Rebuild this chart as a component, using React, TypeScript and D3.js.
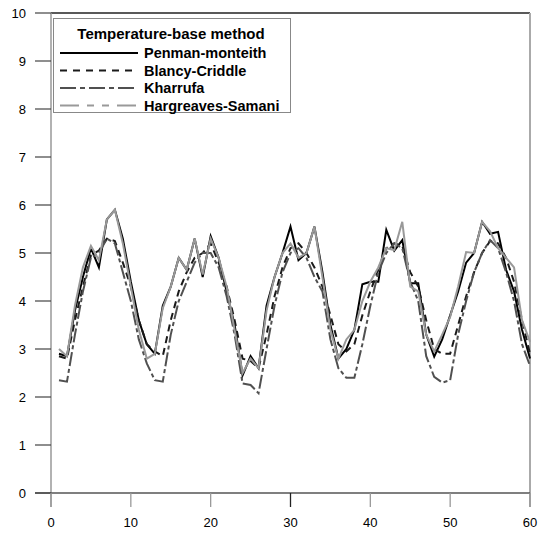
import React from "react";
import * as d3 from "d3";

const days: number[] = d3.range(1, 61);
const penman: number[] = [2.9,2.85,3.8,4.5,5.1,4.7,5.7,5.9,5.3,4.4,3.6,3.1,2.9,3.9,4.3,4.9,4.65,5.3,4.5,5.35,4.9,4.2,3.5,2.45,2.85,2.6,3.9,4.5,5.0,5.55,4.85,5.0,5.55,4.6,3.5,2.8,3.0,3.4,4.35,4.4,4.4,5.48,5.05,5.27,4.37,4.37,3.3,2.84,3.2,3.7,4.2,4.8,5.0,5.65,5.4,5.44,4.65,4.2,3.4,2.8];
const blancy: number[] = [2.85,2.8,3.6,4.3,4.95,5.05,5.3,5.25,4.8,4.3,3.6,3.1,2.95,2.85,3.6,4.2,4.6,4.9,5.0,5.2,4.8,4.3,3.6,2.8,2.75,2.6,3.3,4.1,4.7,5.1,5.2,5.0,4.7,4.3,3.7,3.1,2.95,3.1,3.7,4.2,4.65,5.1,5.2,5.15,4.6,4.3,3.6,3.0,2.9,2.9,3.5,4.1,4.6,5.0,5.25,5.2,4.9,4.4,3.6,2.9];
const kharrufa: number[] = [2.35,2.32,3.3,4.2,4.9,5.0,5.3,5.2,4.6,4.0,3.2,2.7,2.35,2.32,3.3,4.0,4.4,4.8,5.0,5.0,4.7,4.1,3.3,2.28,2.25,2.08,3.0,3.9,4.6,5.0,5.1,4.9,4.5,4.2,3.2,2.6,2.4,2.4,3.1,3.9,4.6,5.0,5.2,5.1,4.4,4.0,2.85,2.42,2.3,2.35,3.3,4.0,4.6,5.0,5.27,5.1,4.6,4.0,3.1,2.65];
const hargreaves: number[] = [3.0,2.85,3.9,4.7,5.15,4.85,5.7,5.9,5.2,4.3,3.4,2.8,2.9,3.85,4.3,4.9,4.65,5.3,4.55,5.3,4.9,4.3,3.4,2.5,2.8,2.6,3.8,4.5,5.0,5.2,4.9,5.0,5.55,4.5,3.4,2.8,3.2,3.4,4.0,4.4,4.7,5.1,5.06,5.65,4.3,4.2,3.3,2.95,3.3,3.67,4.3,5.02,5.0,5.65,5.45,5.1,4.9,4.7,3.6,3.15];

const seriesNames: string[] = ["Penman-monteith", "Blancy-Criddle", "Kharrufa", "Hargreaves-Samani"];
const xTicks: number[] = [0, 10, 20, 30, 40, 50, 60];
const yTicks: number[] = [0, 1, 2, 3, 4, 5, 6, 7, 8, 9, 10];
const legendTitle = "Temperature-base method";

const W = 540, H = 534;
const x = d3.scaleLinear().domain([0, 60]).range([51, 530]);
const y = d3.scaleLinear().domain([0, 10]).range([493, 13]);

const styles = [
  { color: "#000000", width: 2, dash: "none", legendDash: "none" },
  { color: "#1a1a1a", width: 2, dash: "7,5", legendDash: "7,6" },
  { color: "#505050", width: 2, dash: "14,3,4,3", legendDash: "16,4,5,4" },
  { color: "#999999", width: 2, dash: "none", legendDash: "19,8,7,8,7,8" },
];

export default function App() {
  const data = [penman, blancy, kharrufa, hargreaves];
  const line = d3
    .line<number>()
    .x((_, i) => x(days[i]))
    .y((d) => y(d));
  const font = "Arial, 'Liberation Sans', sans-serif";
  return (
    <svg
      width={W}
      height={H}
      style={{ position: "absolute", left: 0, top: 0, background: "#fff" }}
      fontFamily={font}
    >
      <rect x={0} y={0} width={W} height={H} fill="#fff" />
      {/* frame */}
      <line x1={x(0)} x2={x(60)} y1={y(10)} y2={y(10)} stroke="#222" strokeWidth={1.5} />
      <line x1={x(60)} x2={x(60)} y1={y(10)} y2={y(0) + 14} stroke="#aaa" strokeWidth={2} />
      <line x1={x(0)} x2={x(0)} y1={y(10)} y2={y(0) + 14} stroke="#999" strokeWidth={1.5} />
      <line x1={x(0) - 16} x2={x(60)} y1={y(0)} y2={y(0)} stroke="#555" strokeWidth={1.5} />
      {/* y ticks */}
      {yTicks.map((t) => (
        <g key={"y" + t}>
          <line x1={x(0) - 16} x2={x(0)} y1={y(t)} y2={y(t)} stroke="#444" strokeWidth={1.2} />
          <text x={26} y={y(t) + 4.5} textAnchor="end" fontSize={13} fill="#000">
            {t}
          </text>
        </g>
      ))}
      {/* x ticks */}
      {xTicks.map((t) => (
        <g key={"x" + t}>
          <line x1={x(t)} x2={x(t)} y1={y(0)} y2={y(0) + 14} stroke={t === 30 ? "#222" : "#999"} strokeWidth={1.3} />
          <text x={x(t)} y={527} textAnchor="middle" fontSize={13} fill="#000">
            {t}
          </text>
        </g>
      ))}
      {/* series */}
      {data.map((d, i) => (
        <path
          key={seriesNames[i]}
          d={line(d) || ""}
          fill="none"
          stroke={styles[i].color}
          strokeWidth={styles[i].width}
          strokeDasharray={styles[i].dash}
          strokeLinejoin="miter"
        />
      ))}
      {/* legend */}
      <rect x={53.5} y={18.5} width={237} height={94} fill="#fff" stroke="#888" strokeWidth={1} />
      <text x={171} y={39} textAnchor="middle" fontSize={15} fontWeight="bold" fill="#000">
        {legendTitle}
      </text>
      {seriesNames.map((name, i) => {
        const ly = 53 + i * 17.5;
        return (
          <g key={"lg" + name}>
            <line
              x1={60}
              x2={138}
              y1={ly}
              y2={ly}
              stroke={styles[i].color}
              strokeWidth={2}
              strokeDasharray={styles[i].legendDash}
            />
            <text x={144} y={ly + 5} fontSize={14.5} fontWeight="bold" fill="#000">
              {name}
            </text>
          </g>
        );
      })}
    </svg>
  );
}
